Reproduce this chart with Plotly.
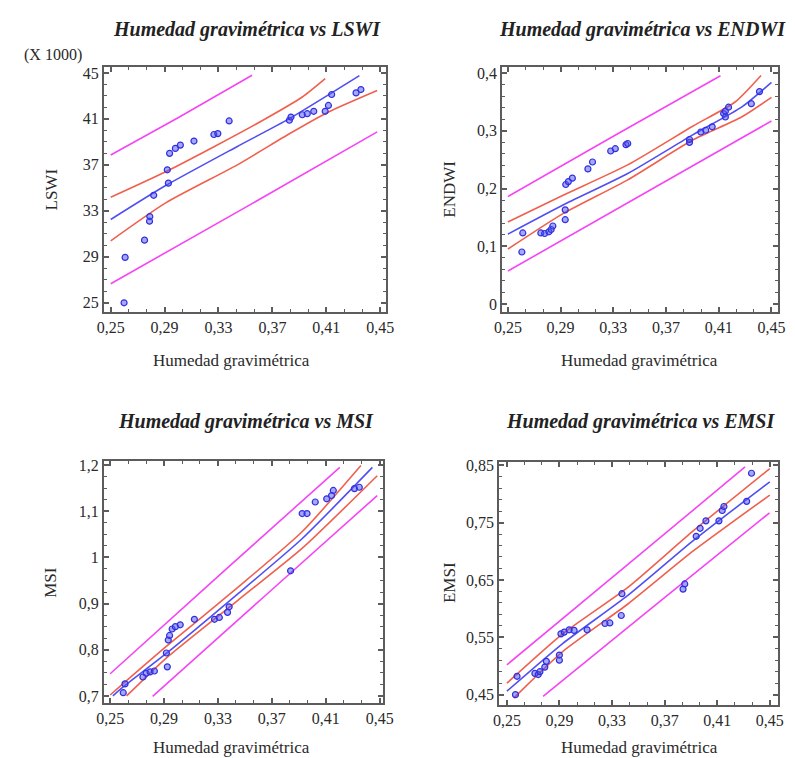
import plotly.graph_objects as go

# ---------------- data ----------------
# Panel 1: Humedad gravimétrica vs LSWI (values x 1000)
hum_lswi = [0.2599, 0.2607, 0.2751, 0.2788, 0.2790, 0.2819, 0.2920, 0.2928, 0.2937, 0.2980, 0.3017,
            0.3118, 0.3266, 0.3295, 0.3379, 0.3826, 0.3838, 0.3922, 0.3959, 0.4007, 0.4092, 0.4116,
            0.4140, 0.4321, 0.4357]
lswi = [25.0, 28.95, 30.45, 32.1, 32.5, 34.35, 36.57, 35.41, 38.0, 38.43, 38.72,
        39.07, 39.64, 39.72, 40.82, 40.88, 41.16, 41.36, 41.45, 41.66, 41.66, 42.17,
        43.12, 43.26, 43.55]
lswi_fit_x = [0.25, 0.2908, 0.344, 0.3826, 0.4346]
lswi_fit_y = [32.25, 35.2, 38.6, 41.02, 44.76]
lswi_cu_x = [0.25, 0.2908, 0.327, 0.3633, 0.3922, 0.4092]
lswi_cu_y = [34.18, 36.4, 38.6, 40.9, 42.9, 44.5]
lswi_cl_x = [0.25, 0.2908, 0.344, 0.3826, 0.4116, 0.4478]
lswi_cl_y = [30.39, 33.69, 37.0, 39.7, 41.6, 43.47]
lswi_pu_x = [0.25, 0.30, 0.3549]
lswi_pu_y = [37.86, 41.1, 44.8]
lswi_pl_x = [0.25, 0.35, 0.4478]
lswi_pl_y = [26.66, 33.3, 39.87]

# Panel 2: Humedad gravimétrica vs ENDWI
hum_endwi = [0.2606, 0.2613, 0.2750, 0.2779, 0.2811, 0.2828, 0.2841, 0.2935, 0.2935, 0.2939, 0.2959,
             0.2989, 0.3107, 0.3142, 0.3280, 0.3315, 0.3396, 0.3409, 0.3878, 0.3878, 0.3964, 0.4001,
             0.4050, 0.4137, 0.4150, 0.4150, 0.4174, 0.4347, 0.4409]
endwi = [0.090, 0.123, 0.123, 0.122, 0.125, 0.129, 0.135, 0.146, 0.163, 0.207, 0.212,
         0.218, 0.234, 0.246, 0.265, 0.269, 0.276, 0.278, 0.280, 0.285, 0.298, 0.301,
         0.307, 0.330, 0.334, 0.324, 0.341, 0.347, 0.368]
endwi_fit_x = [0.25, 0.2915, 0.3409, 0.3902, 0.4273, 0.45]
endwi_fit_y = [0.121, 0.171, 0.226, 0.293, 0.341, 0.384]
endwi_cu_x = [0.25, 0.2915, 0.3409, 0.3902, 0.4224, 0.4421]
endwi_cu_y = [0.142, 0.188, 0.241, 0.308, 0.350, 0.396]
endwi_cl_x = [0.25, 0.2915, 0.3409, 0.3902, 0.4273, 0.45]
endwi_cl_y = [0.095, 0.156, 0.215, 0.284, 0.324, 0.358]
endwi_pu_x = [0.25, 0.331, 0.4113]
endwi_pu_y = [0.186, 0.292, 0.3955]
endwi_pl_x = [0.25, 0.35, 0.45]
endwi_pl_y = [0.057, 0.187, 0.317]

# Panel 3: Humedad gravimétrica vs MSI
hum_msi = [0.2597, 0.2610, 0.2743, 0.2767, 0.2796, 0.2828, 0.2924, 0.2917, 0.2931, 0.2941, 0.2960,
           0.2984, 0.3020, 0.3125, 0.3274, 0.3310, 0.3371, 0.3383, 0.3839, 0.3925, 0.3961, 0.4022,
           0.4107, 0.4143, 0.4156, 0.4313, 0.4349]
msi = [0.707, 0.726, 0.741, 0.749, 0.752, 0.754, 0.763, 0.793, 0.821, 0.831, 0.845,
       0.850, 0.854, 0.866, 0.866, 0.870, 0.881, 0.893, 0.971, 1.095, 1.095, 1.120,
       1.127, 1.134, 1.145, 1.149, 1.152]
msi_fit_x = [0.252, 0.2598, 0.2912, 0.3443, 0.3926, 0.4446]
msi_fit_y = [0.700, 0.720, 0.791, 0.920, 1.041, 1.195]
msi_cu_x = [0.25, 0.2912, 0.3443, 0.3926, 0.4361]
msi_cu_y = [0.702, 0.806, 0.934, 1.056, 1.199]
msi_cl_x = [0.2622, 0.2912, 0.3443, 0.3926, 0.4482]
msi_cl_y = [0.700, 0.781, 0.906, 1.020, 1.177]
msi_pu_x = [0.25, 0.335, 0.4204]
msi_pu_y = [0.748, 0.972, 1.195]
msi_pl_x = [0.2815, 0.365, 0.4482]
msi_pl_y = [0.699, 0.917, 1.134]

# Panel 4: Humedad gravimétrica vs EMSI
hum_emsi = [0.2565, 0.2577, 0.2713, 0.2738, 0.2751, 0.2788, 0.2800, 0.2899, 0.2899, 0.2911, 0.2936,
            0.2974, 0.3011, 0.3110, 0.3246, 0.3283, 0.3370, 0.3375, 0.3840, 0.3853, 0.3940, 0.3970,
            0.4014, 0.4113, 0.4138, 0.4151, 0.4324, 0.4361]
emsi = [0.450, 0.482, 0.487, 0.485, 0.490, 0.498, 0.508, 0.510, 0.519, 0.556, 0.559,
        0.563, 0.562, 0.563, 0.574, 0.575, 0.588, 0.626, 0.634, 0.643, 0.726, 0.740,
        0.753, 0.753, 0.771, 0.778, 0.787, 0.836]
emsi_fit_x = [0.25, 0.2924, 0.342, 0.3915, 0.45]
emsi_fit_y = [0.456, 0.539, 0.623, 0.718, 0.821]
emsi_cu_x = [0.25, 0.2924, 0.342, 0.3915, 0.45]
emsi_cu_y = [0.470, 0.556, 0.637, 0.735, 0.844]
emsi_cl_x = [0.2552, 0.2924, 0.342, 0.3915, 0.45]
emsi_cl_y = [0.444, 0.525, 0.608, 0.700, 0.798]
emsi_pu_x = [0.25, 0.34, 0.4312]
emsi_pu_y = [0.502, 0.673, 0.847]
emsi_pl_x = [0.2775, 0.365, 0.4498]
emsi_pl_y = [0.447, 0.610, 0.767]

# tick labels
x_tickvals = [0.25, 0.29, 0.33, 0.37, 0.41, 0.45]
x_ticktext = ["0,25", "0,29", "0,33", "0,37", "0,41", "0,45"]
lswi_tickvals = [25, 29, 33, 37, 41, 45]
lswi_ticktext = ["25", "29", "33", "37", "41", "45"]
endwi_tickvals = [0, 0.1, 0.2, 0.3, 0.4]
endwi_ticktext = ["0", "0,1", "0,2", "0,3", "0,4"]
msi_tickvals = [0.7, 0.8, 0.9, 1.0, 1.1, 1.2]
msi_ticktext = ["0,7", "0,8", "0,9", "1", "1,1", "1,2"]
emsi_tickvals = [0.45, 0.55, 0.65, 0.75, 0.85]
emsi_ticktext = ["0,45", "0,55", "0,65", "0,75", "0,85"]

titles = ["Humedad gravimétrica vs LSWI", "Humedad gravimétrica vs ENDWI",
          "Humedad gravimétrica vs MSI", "Humedad gravimétrica vs EMSI"]
y_titles = ["LSWI", "ENDWI", "MSI", "EMSI"]
x_title = "Humedad gravimétrica"

# ---------------- figure ----------------
W, H = 795, 758
FONT = "Liberation Serif, Times New Roman, serif"
BLUE = "#5050f2"
RED = "#f0604e"
MAG = "#f545f5"
FRAME = "#5c5c5c"

panels = [
    dict(x=hum_lswi, y=lswi, fit=(lswi_fit_x, lswi_fit_y), cu=(lswi_cu_x, lswi_cu_y),
         cl=(lswi_cl_x, lswi_cl_y), pu=(lswi_pu_x, lswi_pu_y), pl=(lswi_pl_x, lswi_pl_y),
         box=(90, 379, 55, 302), xr=[0.2449, 0.4543], yr=[24.18, 45.47],
         yt=(lswi_tickvals, lswi_ticktext), yminor=1.0),
    dict(x=hum_endwi, y=endwi, fit=(endwi_fit_x, endwi_fit_y), cu=(endwi_cu_x, endwi_cu_y),
         cl=(endwi_cl_x, endwi_cl_y), pu=(endwi_pu_x, endwi_pu_y), pl=(endwi_pl_x, endwi_pl_y),
         box=(498, 781, 55, 302), xr=[0.2456, 0.4552], yr=[-0.0144, 0.4098],
         yt=(endwi_tickvals, endwi_ticktext), yminor=0.02),
    dict(x=hum_msi, y=msi, fit=(msi_fit_x, msi_fit_y), cu=(msi_cu_x, msi_cu_y),
         cl=(msi_cl_x, msi_cl_y), pu=(msi_pu_x, msi_pu_y), pl=(msi_pl_x, msi_pl_y),
         box=(90, 376, 452, 696), xr=[0.2453, 0.4525], yr=[0.6856, 1.2092],
         yt=(msi_tickvals, msi_ticktext), yminor=0.025),
    dict(x=hum_emsi, y=emsi, fit=(emsi_fit_x, emsi_fit_y), cu=(emsi_cu_x, emsi_cu_y),
         cl=(emsi_cl_x, emsi_cl_y), pu=(emsi_pu_x, emsi_pu_y), pl=(emsi_pl_x, emsi_pl_y),
         box=(495, 781, 453, 698), xr=[0.2441, 0.4565], yr=[0.4327, 0.8559],
         yt=(emsi_tickvals, emsi_ticktext), yminor=0.02),
]

fig = go.Figure()
layout = dict(width=W, height=H, autosize=False, margin=dict(l=0, r=0, t=0, b=0),
              paper_bgcolor="white", plot_bgcolor="white", showlegend=False,
              font=dict(family=FONT, color="#2a2a2a"))

for i, p in enumerate(panels):
    n = "" if i == 0 else str(i + 1)
    xa, ya = "x" + n, "y" + n
    for (lx, ly), col in [(p["pu"], MAG), (p["pl"], MAG), (p["cu"], RED), (p["cl"], RED), (p["fit"], BLUE)]:
        fig.add_trace(go.Scatter(x=lx, y=ly, mode="lines", xaxis=xa, yaxis=ya,
                                 line=dict(color=col, width=1.6, shape="spline", smoothing=0.6),
                                 hoverinfo="skip"))
    fig.add_trace(go.Scatter(x=p["x"], y=p["y"], mode="markers", xaxis=xa, yaxis=ya,
                             marker=dict(size=6, color="rgba(80,80,240,0.5)",
                                         line=dict(color="#3030e0", width=1.2))))
    l, r, t, b = p["box"]
    common = dict(showline=True, linecolor=FRAME, linewidth=2, mirror="allticks",
                  ticks="inside", ticklen=5, tickwidth=1.5, tickcolor=FRAME,
                  showgrid=False, zeroline=False, tickmode="array",
                  tickfont=dict(family=FONT, size=16, color="#2a2a2a"))
    layout["xaxis" + n] = dict(common, domain=[l / W, r / W], range=p["xr"], anchor=ya,
                               tickvals=x_tickvals, ticktext=x_ticktext,
                               minor=dict(ticks="inside", ticklen=3, tickcolor=FRAME, tickwidth=1.2,
                                          tick0=0.25, dtick=0.04 / 3, showgrid=False))
    layout["yaxis" + n] = dict(common, domain=[1 - b / H, 1 - t / H], range=p["yr"], anchor=xa,
                               tickvals=p["yt"][0], ticktext=p["yt"][1],
                               minor=dict(ticks="inside", ticklen=3, tickcolor=FRAME, tickwidth=1.2,
                                          tick0=p["yt"][0][0], dtick=p["yminor"], showgrid=False))

ann = []
title_pos = [(237, 17), (642, 17), (236, 412), (640, 412)]
for (cx, cy), txt in zip(title_pos, titles):
    ann.append(dict(x=cx / W, y=1 - cy / H, xref="paper", yref="paper", showarrow=False,
                    text="<b><i>" + txt + "</i></b>", font=dict(family=FONT, size=20, color="#222"),
                    xanchor="center", yanchor="middle"))
xt_pos = [(221, 351), (639, 351), (221, 741), (639, 741)]
for cx, cy in xt_pos:
    ann.append(dict(x=cx / W, y=1 - cy / H, xref="paper", yref="paper", showarrow=False,
                    text=x_title, font=dict(family=FONT, size=17, color="#2a2a2a"),
                    xanchor="center", yanchor="middle"))
yt_pos = [(36, 178), (444, 178), (36, 575), (444, 575)]
for (cx, cy), txt in zip(yt_pos, y_titles):
    ann.append(dict(x=cx / W, y=1 - cy / H, xref="paper", yref="paper", showarrow=False,
                    text=txt, textangle=-90, font=dict(family=FONT, size=17, color="#2a2a2a"),
                    xanchor="center", yanchor="middle"))
ann.append(dict(x=6 / W, y=1 - 42 / H, xref="paper", yref="paper", showarrow=False,
                text="(X 1000)", font=dict(family=FONT, size=16, color="#2a2a2a"),
                xanchor="left", yanchor="middle"))
layout["annotations"] = ann

fig.update_layout(**layout)
fig.write_html("out.html")
